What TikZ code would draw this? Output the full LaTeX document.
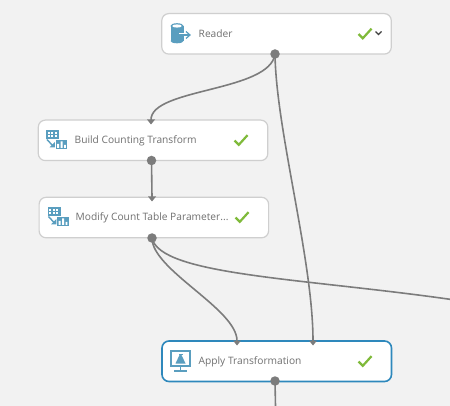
\documentclass[tikz,border=0pt]{standalone}
\usepackage{fontspec}
\setmainfont{Open Sans}
\usetikzlibrary{arrows.meta}
\definecolor{bgc}{HTML}{F2F2F2}
\definecolor{edgec}{HTML}{CFCFCF}
\definecolor{selc}{HTML}{2E88BC}
\definecolor{wirec}{HTML}{7C7C7C}
\definecolor{portc}{HTML}{7C7C7C}
\definecolor{txtc}{HTML}{707070}
\definecolor{iconc}{HTML}{5A9EBF}
\definecolor{okc}{HTML}{7FBA3A}
\tikzset{
  x=1pt,y=-1pt,
  module/.style={draw=edgec,line width=1.2pt,fill=white,rounded corners=7pt,minimum width=229.5pt,minimum height=40.5pt,inner sep=0pt,anchor=north west},
  selected/.style={draw=selc,line width=1.6pt},
  lbl/.style={text=txtc,font=\fontsize{10.2pt}{12pt}\selectfont,anchor=west,inner sep=0pt},
  port/.style={circle,fill=portc,minimum size=9.5pt,inner sep=0pt},
  inport/.style={inner sep=0pt,minimum size=0pt},
  wire/.style={draw=wirec,line width=1.6pt},
  arrowtip/.style={fill=portc,draw=none},
  tick/.style={draw=okc,line width=2.2pt},
  ico/.style={fill=iconc,draw=none},
}
\newcommand{\okmark}[2]{\draw[tick] (#1-6.5,#2+0.5) -- (#1-2.2,#2+4.8) -- (#1+6.5,#2-4.8);}
\newcommand{\inhead}[1]{\path[arrowtip] (#1)++(-4,-0.5) -- ++(8,0) -- ++(-4,5) -- cycle;}
\newcommand{\gridicon}[2]{%
  \begin{scope}[shift={(#1,#2)}]
    \fill[iconc] (0,0) rectangle (13,9.5);
    \foreach \a in {1.5,5,8.5}\foreach \b in {1.7,5.3}{\fill[white] (\a,\b) rectangle ++(2.4,2.2);}
    \draw[iconc,line width=1.4pt] (1,9.5) -- (7,16);
    \path[ico] (3.5,17.5) -- (8.8,17.5) -- (8.8,12) -- cycle;
    \fill[iconc] (9.5,10) rectangle (21,19);
    \fill[white] (11,18) rectangle (13,14) (14.5,18) rectangle (16.5,11.5) (18,18) rectangle (19.8,15);
  \end{scope}}
\begin{document}
\begin{tikzpicture}
\useasboundingbox (0,0) rectangle (450,406);
\fill[bgc] (0,0) rectangle (450,406);
% modules
\node[module] (reader) at (161.2,13) {};
\node[module] (build) at (37.7,119.5) {};
\node[module] (modify) at (38.5,196.7) {};
\node[module,selected] (apply) at (161.2,340.2) {};
% ports
\node[inport] (buildin) at (151,120) {};
\node[inport] (modin) at (152,197) {};
\node[inport] (applyl) at (237,341) {};
\node[inport] (applyr) at (313,341) {};
\coordinate (offr) at (450,299.3);
\coordinate (offb) at (275.5,406);
% wires
\draw[wire] (275,54) .. controls (270,92) and (151,88) .. (buildin);
\draw[wire] (275,54) .. controls (276,130) and (313,260) .. (applyr);
\draw[wire] (151.5,160.5) -- (modin);
\draw[wire] (152,238) .. controls (152,270) and (237,309) .. (applyl);
\draw[wire] (152,238) .. controls (160,275) and (300,278) .. (offr);
\draw[wire] (275,381) -- (offb);
\inhead{buildin}\inhead{modin}\inhead{applyl}\inhead{applyr}
\node[port] (readerout) at (275,54) {};
\node[port] (buildout) at (151.5,160.5) {};
\node[port] (modout) at (152,238) {};
\node[port] (applyout) at (275,381) {};
% labels
\node[lbl] (t1) at (198.5,34) {Reader};
\node[lbl] (t2) at (74.5,140.5) {Build Counting Transform};
\node[lbl] (t3) at (75.5,217.5) {Modify Count Table Parameter...};
\node[lbl] (t4) at (198.5,361.5) {Apply Transformation};
% ticks
\okmark{365}{33.5}
\okmark{241}{140}
\okmark{242}{217}
\okmark{365}{361}
\draw[draw=black!75,line width=1.3pt] (375.5,31.5) -- (378.5,34.5) -- (381.5,31.5);
% reader icon
\fill[iconc] (170.5,26) rectangle (183.5,41);
\fill[iconc] (177,41) ellipse [x radius=6.5, y radius=2.3];
\fill[iconc] (177,26) ellipse [x radius=6.5, y radius=2.8];
\fill[white] (177,26) ellipse [x radius=4.8, y radius=1.6];
\draw[white,line width=3pt] (179,35) -- (188,35);
\draw[white,line width=3pt] (185,31) -- (190,35) -- (185,39);
\draw[iconc,line width=1.2pt] (179,35) -- (189.5,35);
\draw[iconc,line width=1.2pt] (186,31.5) -- (190,35) -- (186,38.5);
% table icons
\gridicon{46}{130}
\gridicon{47.5}{207}
% apply icon
\fill[iconc] (170,350) rectangle (191,366.5);
\fill[white] (172,352) rectangle (189,364.5);
\fill[iconc] (178.5,353.5) rectangle (182.5,355);
\path[ico] (179.5,355) -- (181.5,355) -- (185.5,363.5) -- (175.5,363.5) -- cycle;
\fill[iconc] (179.7,366.5) rectangle (181.3,370.5);
\fill[iconc] (174,370) rectangle (187,371.5);
\end{tikzpicture}
\end{document}
